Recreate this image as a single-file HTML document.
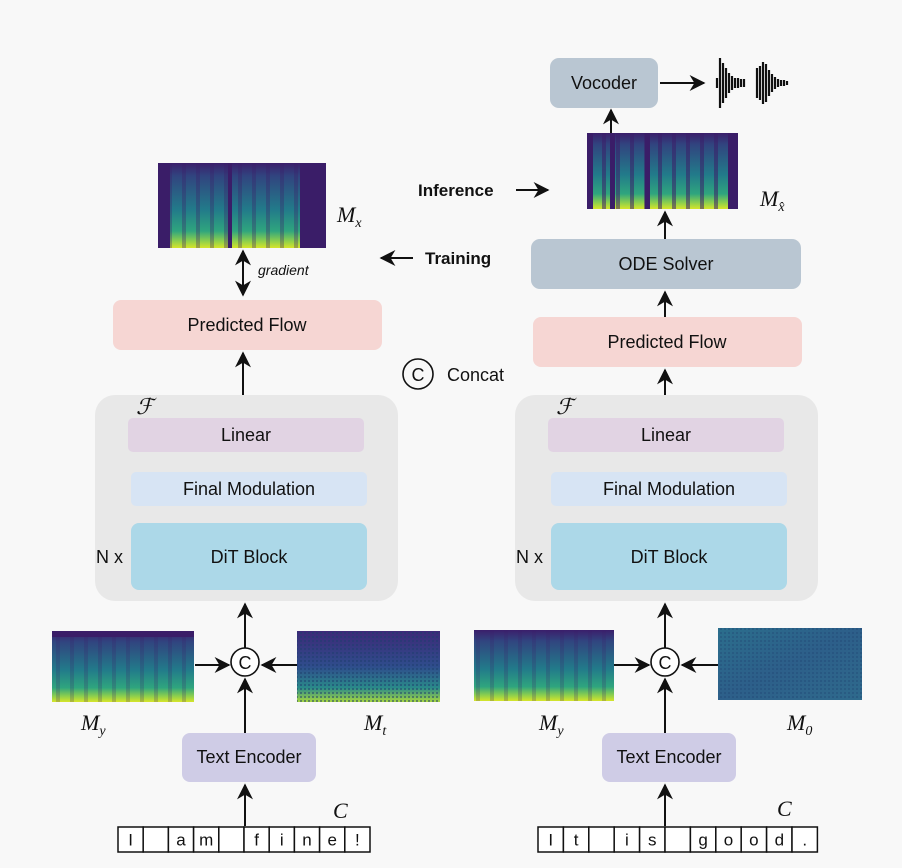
<!DOCTYPE html>
<html><head><meta charset="utf-8"><style>
html,body{margin:0;padding:0;background:#f8f8f8}
svg{display:block;font-family:"Liberation Sans",sans-serif}
.t{font-size:18px;fill:#111;text-anchor:middle;dominant-baseline:central}
.m{font-family:"Liberation Serif",serif;font-style:italic;font-size:22px;fill:#111}
.cell{fill:#fff;stroke:#111;stroke-width:1.5}
.ct{font-size:17px;fill:#111;text-anchor:middle;dominant-baseline:central}
</style></head><body>
<svg width="902" height="868" viewBox="0 0 902 868">
<defs>
<marker id="ah" viewBox="0 0 10 10" refX="9" refY="5" markerWidth="8" markerHeight="8" orient="auto-start-reverse"><path d="M0,0 L10,5 L0,10 L3,5 z" fill="#111"/></marker>
<linearGradient id="vir" x1="0" y1="0" x2="0" y2="1">
<stop offset="0" stop-color="#3b1f6b"/><stop offset="0.15" stop-color="#31447f"/><stop offset="0.55" stop-color="#227b8a"/><stop offset="0.8" stop-color="#2fa57e"/><stop offset="0.92" stop-color="#8fd04c"/><stop offset="1" stop-color="#d6e52a"/></linearGradient>
<linearGradient id="vir2" x1="0" y1="0" x2="0" y2="1">
<stop offset="0" stop-color="#3d2a78"/><stop offset="0.5" stop-color="#2f4d8c"/><stop offset="0.8" stop-color="#2a8a8a"/><stop offset="1" stop-color="#a8d840"/></linearGradient>
<linearGradient id="noise" x1="0" y1="0" x2="1" y2="1">
<stop offset="0" stop-color="#2b6e8c"/><stop offset="0.5" stop-color="#2d5f8a"/><stop offset="1" stop-color="#2e6a8c"/></linearGradient>
<pattern id="stripes" width="14" height="10" patternUnits="userSpaceOnUse"><rect x="0" y="0" width="4" height="10" fill="#3a1d68" opacity="0.55"/></pattern>
<pattern id="dots" width="4" height="4" patternUnits="userSpaceOnUse"><rect x="0" y="0" width="2" height="2" fill="#1e3e6e" opacity="0.5"/></pattern>
</defs>

<rect x="550" y="58" width="108" height="50" rx="9" fill="#b9c6d2"/>
<text class="t" x="604" y="83">Vocoder</text>
<line x1="660" y1="83" x2="704" y2="83" stroke="#111" stroke-width="2" marker-end="url(#ah)"/>
<g stroke="#111" stroke-width="2.2">
<line x1="717" y1="78" x2="717" y2="88"/><line x1="720" y1="58" x2="720" y2="108"/><line x1="723" y1="63" x2="723" y2="103"/><line x1="726" y1="68" x2="726" y2="98"/><line x1="729" y1="73" x2="729" y2="93"/><line x1="732" y1="76" x2="732" y2="90"/><line x1="735" y1="78" x2="735" y2="88"/><line x1="738" y1="78" x2="738" y2="88"/><line x1="741" y1="79" x2="741" y2="87"/><line x1="744" y1="79" x2="744" y2="87"/>
<line x1="757" y1="68" x2="757" y2="98"/><line x1="760" y1="66" x2="760" y2="100"/><line x1="763" y1="62" x2="763" y2="104"/><line x1="766" y1="64" x2="766" y2="102"/><line x1="769" y1="70" x2="769" y2="96"/><line x1="772" y1="74" x2="772" y2="92"/><line x1="775" y1="77" x2="775" y2="89"/><line x1="778" y1="79" x2="778" y2="87"/><line x1="781" y1="80" x2="781" y2="86"/><line x1="784" y1="80" x2="784" y2="86"/><line x1="787" y1="81" x2="787" y2="85"/>
</g>
<line x1="611" y1="133" x2="611" y2="110" stroke="#111" stroke-width="2" marker-end="url(#ah)"/>

<g>
<rect x="587" y="133" width="151" height="76" fill="url(#vir)"/>
<rect x="587" y="133" width="151" height="76" fill="url(#stripes)"/>
<rect x="587" y="133" width="6" height="76" fill="#3a1d68"/><rect x="610" y="133" width="5" height="76" fill="#3a1d68"/><rect x="645" y="133" width="5" height="76" fill="#3a1d68"/><rect x="728" y="133" width="10" height="76" fill="#3a1d68"/>
</g>
<text class="m" x="760" y="206">M<tspan font-size="14" dy="5">x̂</tspan></text>

<text x="418" y="196" font-size="17" font-weight="bold" fill="#111">Inference</text>
<line x1="516" y1="190" x2="548" y2="190" stroke="#111" stroke-width="2" marker-end="url(#ah)"/>
<text x="425" y="264" font-size="17" font-weight="bold" fill="#111">Training</text>
<line x1="413" y1="258" x2="381" y2="258" stroke="#111" stroke-width="2" marker-end="url(#ah)"/>

<g>
<rect x="158" y="163" width="168" height="85" fill="url(#vir)"/>
<rect x="158" y="163" width="168" height="85" fill="url(#stripes)" opacity="0.6"/>
<rect x="158" y="163" width="12" height="85" fill="#3a1d68"/><rect x="228" y="163" width="4" height="85" fill="#3a1d68"/><rect x="300" y="163" width="26" height="85" fill="#3a1d68"/>
</g>
<text class="m" x="337" y="222">M<tspan font-size="14" dy="5">x</tspan></text>
<line x1="243" y1="272" x2="243" y2="251" stroke="#111" stroke-width="2" marker-end="url(#ah)"/>
<line x1="243" y1="272" x2="243" y2="295" stroke="#111" stroke-width="2" marker-end="url(#ah)"/>
<text x="258" y="275" font-size="14" font-style="italic" fill="#111">gradient</text>

<rect x="113" y="300" width="269" height="50" rx="8" fill="#f6d6d3"/>
<text class="t" x="247" y="325">Predicted Flow</text>
<line x1="243" y1="395" x2="243" y2="353" stroke="#111" stroke-width="2" marker-end="url(#ah)"/>

<rect x="531" y="239" width="270" height="50" rx="9" fill="#b9c6d2"/>
<text class="t" x="666" y="264">ODE Solver</text>
<line x1="665" y1="239" x2="665" y2="212" stroke="#111" stroke-width="2" marker-end="url(#ah)"/>
<rect x="533" y="317" width="269" height="50" rx="8" fill="#f6d6d3"/>
<text class="t" x="667" y="342">Predicted Flow</text>
<line x1="665" y1="317" x2="665" y2="292" stroke="#111" stroke-width="2" marker-end="url(#ah)"/>
<line x1="665" y1="395" x2="665" y2="370" stroke="#111" stroke-width="2" marker-end="url(#ah)"/>

<circle cx="418" cy="374" r="15" fill="none" stroke="#111" stroke-width="1.6"/>
<text class="t" x="418" y="375" font-size="17">C</text>
<text x="447" y="381" font-size="18" fill="#111">Concat</text>

<g>
<rect x="95" y="395" width="303" height="206" rx="20" fill="#e8e8e8"/>
<text class="m" x="136" y="414" font-size="19">ℱ</text>
<rect x="128" y="418" width="236" height="34" rx="5" fill="#e1d3e3"/><text class="t" x="246" y="435">Linear</text>
<rect x="131" y="472" width="236" height="34" rx="5" fill="#d7e4f4"/><text class="t" x="249" y="489">Final Modulation</text>
<rect x="131" y="523" width="236" height="67" rx="8" fill="#acd8e8"/><text class="t" x="249" y="557">DiT Block</text>
<text x="96" y="563" font-size="18" fill="#111">N x</text>
</g>
<g>
<rect x="515" y="395" width="303" height="206" rx="20" fill="#e8e8e8"/>
<text class="m" x="556" y="414" font-size="19">ℱ</text>
<rect x="548" y="418" width="236" height="34" rx="5" fill="#e1d3e3"/><text class="t" x="666" y="435">Linear</text>
<rect x="551" y="472" width="236" height="34" rx="5" fill="#d7e4f4"/><text class="t" x="669" y="489">Final Modulation</text>
<rect x="551" y="523" width="236" height="67" rx="8" fill="#acd8e8"/><text class="t" x="669" y="557">DiT Block</text>
<text x="516" y="563" font-size="18" fill="#111">N x</text>
</g>

<line x1="245" y1="648" x2="245" y2="604" stroke="#111" stroke-width="2" marker-end="url(#ah)"/>
<line x1="665" y1="648" x2="665" y2="604" stroke="#111" stroke-width="2" marker-end="url(#ah)"/>
<circle cx="245" cy="662" r="14" fill="#fff" stroke="#111" stroke-width="1.6"/>
<text class="t" x="245" y="663" font-size="17">C</text>
<circle cx="665" cy="662" r="14" fill="#fff" stroke="#111" stroke-width="1.6"/>
<text class="t" x="665" y="663" font-size="17">C</text>
<line x1="195" y1="665" x2="229" y2="665" stroke="#111" stroke-width="2" marker-end="url(#ah)"/>
<line x1="297" y1="665" x2="262" y2="665" stroke="#111" stroke-width="2" marker-end="url(#ah)"/>
<line x1="614" y1="665" x2="649" y2="665" stroke="#111" stroke-width="2" marker-end="url(#ah)"/>
<line x1="718" y1="665" x2="682" y2="665" stroke="#111" stroke-width="2" marker-end="url(#ah)"/>

<g>
<rect x="52" y="631" width="142" height="71" fill="url(#vir)"/>
<rect x="52" y="631" width="142" height="71" fill="url(#stripes)" opacity="0.4"/>
<rect x="52" y="631" width="142" height="6" fill="#3a1d68"/>
</g>
<g>
<rect x="297" y="631" width="143" height="71" fill="url(#vir2)"/>
<rect x="297" y="631" width="143" height="71" fill="url(#dots)"/>
</g>
<g>
<rect x="474" y="630" width="140" height="71" fill="url(#vir)"/>
<rect x="474" y="630" width="140" height="71" fill="url(#stripes)" opacity="0.4"/>
</g>
<g>
<rect x="718" y="628" width="144" height="72" fill="url(#noise)"/>
<rect x="718" y="628" width="144" height="72" fill="url(#dots)" opacity="0.6"/>
</g>
<text class="m" x="81" y="730">M<tspan font-size="14" dy="5">y</tspan></text>
<text class="m" x="364" y="730">M<tspan font-size="14" dy="5">t</tspan></text>
<text class="m" x="539" y="730">M<tspan font-size="14" dy="5">y</tspan></text>
<text class="m" x="787" y="730">M<tspan font-size="14" dy="5">0</tspan></text>

<line x1="245" y1="733" x2="245" y2="679" stroke="#111" stroke-width="2" marker-end="url(#ah)"/>
<line x1="665" y1="733" x2="665" y2="679" stroke="#111" stroke-width="2" marker-end="url(#ah)"/>
<rect x="182" y="733" width="134" height="49" rx="8" fill="#cfcce6"/>
<text class="t" x="249" y="757">Text Encoder</text>
<rect x="602" y="733" width="134" height="49" rx="8" fill="#cfcce6"/>
<text class="t" x="669" y="757">Text Encoder</text>
<line x1="245" y1="826" x2="245" y2="785" stroke="#111" stroke-width="2" marker-end="url(#ah)"/>
<line x1="665" y1="826" x2="665" y2="785" stroke="#111" stroke-width="2" marker-end="url(#ah)"/>
<text class="m" x="333" y="818">C</text>
<text class="m" x="777" y="816">C</text>

<g id="charsL"></g>
<g id="charsR"></g>
</svg>
<script>
const leftChars=["I"," ","a","m"," ","f","i","n","e","!"];
const rightChars=["I","t"," ","i","s"," ","g","o","o","d","."];
function drawCells(id,chars,x0,w){
  const g=document.getElementById(id);
  chars.forEach((c,i)=>{
    const r=document.createElementNS("http://www.w3.org/2000/svg","rect");
    r.setAttribute("x",x0+i*w);r.setAttribute("y",827);r.setAttribute("width",w);r.setAttribute("height",25);
    r.setAttribute("class","cell");
    
    
    g.appendChild(r);
    const t=document.createElementNS("http://www.w3.org/2000/svg","text");
    t.setAttribute("x",x0+i*w+w/2);t.setAttribute("y",840);t.setAttribute("class","ct");
    t.textContent=c;
    
    
    g.appendChild(t);
  });
}
drawCells("charsL",leftChars,118,25.2);
drawCells("charsR",rightChars,538,25.4);
</script>
</body></html>
